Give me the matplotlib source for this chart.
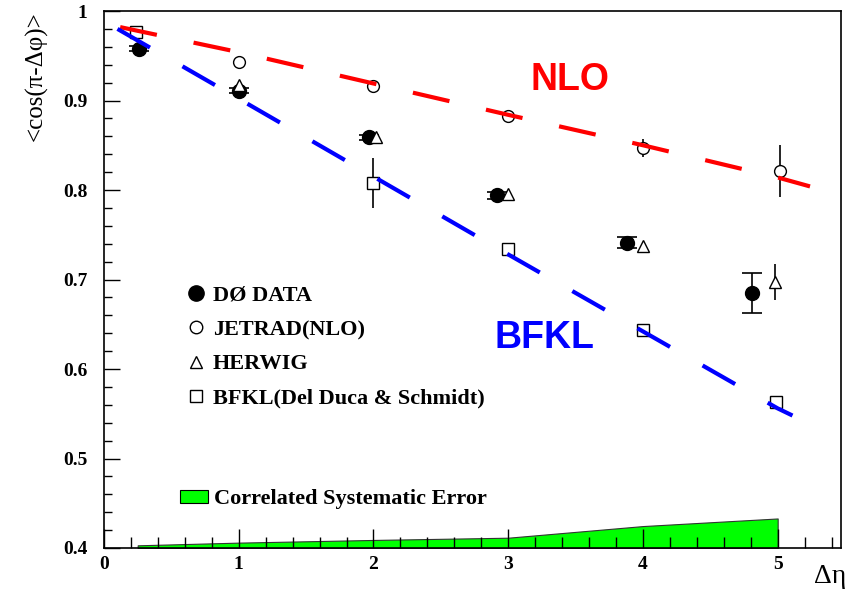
import matplotlib
matplotlib.use("Agg")
import matplotlib.pyplot as plt
from matplotlib.lines import Line2D
from matplotlib.patches import Patch

plt.rcParams["font.family"] = ["Liberation Serif", "DejaVu Serif"]
plt.rcParams["lines.scale_dashes"] = False

# D0 data
d0_x = [0.26, 1.0, 1.97, 2.92, 3.88, 4.81]
d0_y = [0.958, 0.911, 0.859, 0.794, 0.741, 0.685]
d0_err = [0.003, 0.003, 0.003, 0.004, 0.006, 0.022]

# JETRAD (NLO)
jet_x = [1.0, 2.0, 3.0, 4.0, 5.02]
jet_y = [0.943, 0.916, 0.883, 0.847, 0.821]
jet_err = [0.002, 0.002, 0.002, 0.01, 0.029]

# HERWIG
her_x = [1.0, 2.02, 3.0, 4.0, 4.98]
her_y = [0.917, 0.859, 0.796, 0.737, 0.697]
her_err = [0.002, 0.002, 0.002, 0.004, 0.02]

# BFKL (Del Duca & Schmidt)
bfkl_x = [0.24, 2.0, 3.0, 4.0, 4.99]
bfkl_y = [0.976, 0.808, 0.734, 0.644, 0.563]
bfkl_err = [0.002, 0.028, 0.002, 0.002, 0.002]

# theory curves
nlo_x = [0.12, 1.0, 2.0, 3.0, 4.0, 5.0, 5.24]
nlo_y = [0.982, 0.954, 0.919, 0.884, 0.850, 0.814, 0.804]
bfkl_curve_x = [0.10, 1.0, 2.0, 3.0, 4.0, 5.0, 5.11]
bfkl_curve_y = [0.980, 0.902, 0.815, 0.728, 0.642, 0.556, 0.548]

# correlated systematic error band
sys_x = [0.25, 1.0, 2.0, 3.0, 4.0, 5.0]
sys_top = [0.403, 0.406, 0.409, 0.4115, 0.4245, 0.433]

fig = plt.figure(figsize=(8.48, 5.90), dpi=100)
ax = fig.add_axes([104 / 848, 1 - 548 / 590, (841 - 104) / 848, (548 - 11) / 590])

ax.fill_between(sys_x, 0.4, sys_top, facecolor="#00ff00", edgecolor="#333333", lw=0.8, zorder=1)

mk = dict(color="black", ecolor="black", elinewidth=1.2, linestyle="none", zorder=3)
ax.errorbar(d0_x, d0_y, yerr=d0_err, fmt="o", ms=10, mfc="black", capsize=7, capthick=1.2, **mk)
ax.errorbar(jet_x, jet_y, yerr=jet_err, fmt="o", ms=8.5, mfc="white", mew=1.0, capsize=0, **mk)
ax.errorbar(her_x, her_y, yerr=her_err, fmt="^", ms=8.5, mfc="white", mew=1.0, capsize=0, **mk)
ax.errorbar(bfkl_x, bfkl_y, yerr=bfkl_err, fmt="s", ms=8, mfc="white", mew=1.0, capsize=0, **mk)

ax.plot(nlo_x, nlo_y, color="#ff0000", lw=3, dashes=(27, 27), zorder=4)
ax.plot(bfkl_curve_x, bfkl_curve_y, color="#0000ff", lw=3, dashes=(27, 27), zorder=4)

ax.text(3.46, 0.923, "NLO", color="#ff0000", fontsize=27, fontweight="bold",
        family="Liberation Sans", ha="center", va="center")
ax.text(3.27, 0.635, "BFKL", color="#0000ff", fontsize=27, fontweight="bold",
        family="Liberation Sans", ha="center", va="center")

ax.set_xlim(0, 5.47)
ax.set_ylim(0.4, 1.0)
ax.set_xticks([0, 1, 2, 3, 4, 5])
ax.set_xticks([i * 0.2 for i in range(28)], minor=True)
ax.set_yticks([0.4, 0.5, 0.6, 0.7, 0.8, 0.9, 1.0])
ax.set_yticklabels(["0.4", "0.5", "0.6", "0.7", "0.8", "0.9", "1"])
ax.set_yticks([0.4 + i * 0.02 for i in range(31)], minor=True)
ax.tick_params(axis="x", which="major", direction="in", length=14, width=1, pad=6)
ax.tick_params(axis="x", which="minor", direction="in", length=8, width=1)
ax.tick_params(axis="y", which="major", direction="in", length=11.5, width=1, pad=12)
ax.tick_params(axis="y", which="minor", direction="in", length=6, width=1)
for lab in ax.get_xticklabels() + ax.get_yticklabels():
    lab.set_fontweight("bold")
    lab.set_fontsize(14)
for sp in ax.spines.values():
    sp.set_linewidth(1.2)

ax.set_xlabel("Δη", fontsize=20, ha="right", va="top")
ax.xaxis.set_label_coords(1.007, -0.03)
ax.set_ylabel("<cos(π-Δφ)>", fontsize=18, loc="top")
ax.yaxis.set_label_coords(-0.077, 1.0)

handles = [
    Line2D([], [], marker="o", color="black", mfc="black", ms=11, ls="none"),
    Line2D([], [], marker="o", color="black", mfc="white", ms=9, mew=1.0, ls="none"),
    Line2D([], [], marker="^", color="black", mfc="white", ms=9, mew=1.0, ls="none"),
    Line2D([], [], marker="s", color="black", mfc="white", ms=8.5, mew=1.0, ls="none"),
]
labels = ["DØ DATA", "JETRAD(NLO)", "HERWIG", "BFKL(Del Duca & Schmidt)"]
leg = ax.legend(handles, labels, loc="upper left", bbox_to_anchor=(0.098, 0.51),
                frameon=False, prop={"weight": "bold", "size": 16},
                handlelength=0.8, handletextpad=0.35, labelspacing=0.62, borderpad=0)
ax.add_artist(leg)

ax.legend([Patch(facecolor="#00ff00", edgecolor="black", lw=0.8)], ["Correlated Systematic Error"],
          loc="upper left", bbox_to_anchor=(0.088, 0.13), frameon=False,
          prop={"weight": "bold", "size": 16}, handlelength=1.25, handleheight=0.55,
          handletextpad=0.3, borderpad=0)

fig.savefig("out.png", dpi=100)
